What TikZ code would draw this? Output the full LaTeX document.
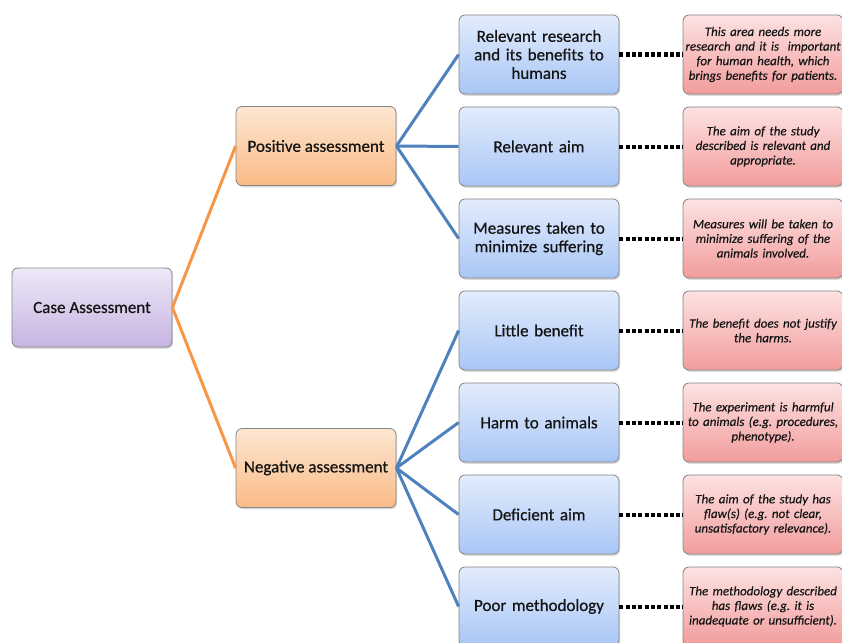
\documentclass[tikz,border=0pt]{standalone}
\usepackage{fontspec}
\setmainfont{Carlito}
\usetikzlibrary{shadows}
\frenchspacing
\definecolor{bluetop}{HTML}{E2ECFC}
\definecolor{bluebot}{HTML}{A9C6F6}
\definecolor{orgtop}{HTML}{FDE6D2}
\definecolor{orgbot}{HTML}{FABB86}
\definecolor{purtop}{HTML}{EEE8F7}
\definecolor{purbot}{HTML}{C6B4E2}
\definecolor{redtop}{HTML}{FDE2E2}
\definecolor{redbot}{HTML}{F29C9C}
\definecolor{boxline}{HTML}{858585}
\definecolor{orgline}{HTML}{F79646}
\definecolor{blueline}{HTML}{4F81BD}
\definecolor{txt}{HTML}{141414}
\tikzset{
  basebox/.style={draw=boxline, line width=0.8pt, rounded corners=6pt,
    minimum width=160pt, minimum height=79pt, inner sep=0pt, align=center,
    text=txt, drop shadow={opacity=0.3, shadow xshift=1.2pt, shadow yshift=-1.8pt}},
  mainbox/.style={basebox, top color=purtop, bottom color=purbot,
    font=\addfontfeature{FakeBold=0.6}\fontsize{17}{18.5}\selectfont},
  midbox/.style={basebox, top color=orgtop, bottom color=orgbot,
    font=\addfontfeature{FakeBold=0.6}\fontsize{17}{18.5}\selectfont},
  itembox/.style={basebox, top color=bluetop, bottom color=bluebot,
    text width=156pt, font=\addfontfeature{FakeBold=0.6}\fontsize{17}{18.5}\selectfont},
  notebox/.style={basebox, top color=redtop, bottom color=redbot,
    text width=158pt, font=\itshape\addfontfeature{FakeBold=0.3}\fontsize{13}{14.6}\selectfont},
  orgconn/.style={draw=orgline, line width=3pt},
  blueconn/.style={draw=blueline, line width=3pt},
  dotconn/.style={draw=black, line width=4pt, dash pattern=on 4pt off 2.3pt}
}
\begin{document}
\begin{tikzpicture}[x=1pt,y=-1pt]
\useasboundingbox (0,0) rectangle (842,642);
\clip (0,0) rectangle (842,642);

\node[mainbox] (case) at (92,307.5) {Case Assessment};
\node[midbox] (pos) at (316,146) {Positive assessment};
\node[midbox] (neg) at (316,468) {Negative assessment};

\node[itembox] (b1) at (539,54.5) {Relevant research\\and its benefits to\\humans};
\node[itembox] (b2) at (539,146.5) {Relevant aim};
\node[itembox] (b3) at (539,238.5) {Measures taken to\\minimize suffering};
\node[itembox] (b4) at (539,330.5) {Little benefit};
\node[itembox] (b5) at (539,422.5) {Harm to animals};
\node[itembox] (b6) at (539,514.5) {Deficient aim};
\node[itembox] (b7) at (539,606.5) {Poor methodology};

\node[notebox] (r1) at (763,54.5) {This area needs more\\research and it is \ important\\for human health, which\\brings benefits for patients.};
\node[notebox] (r2) at (763,146.5) {The aim of the study\\described is relevant and\\appropriate.};
\node[notebox] (r3) at (763,238.5) {Measures will be taken to\\minimize suffering of the\\animals involved.};
\node[notebox] (r4) at (763,330.5) {The benefit does not justify\\the harms.};
\node[notebox] (r5) at (763,422.5) {The experiment is harmful\\to animals (e.g. procedures,\\phenotype).};
\node[notebox] (r6) at (763,514.5) {The aim of the study has\\flaw(s) (e.g. not clear,\\unsatisfactory relevance).};
\node[notebox] (r7) at (763,606.5) {The methodology described\\has flaws (e.g. it is\\inadequate or unsufficient).};

\draw[orgconn] (case.east) -- (pos.west);
\draw[orgconn] (case.east) -- (neg.west);
\foreach \b in {b1,b2,b3} \draw[blueconn] (pos.east) -- (\b.west);
\foreach \b in {b4,b5,b6,b7} \draw[blueconn] (neg.east) -- (\b.west);
\foreach \i in {1,...,7} \draw[dotconn] (b\i.east) -- (r\i.west);
\end{tikzpicture}
\end{document}
